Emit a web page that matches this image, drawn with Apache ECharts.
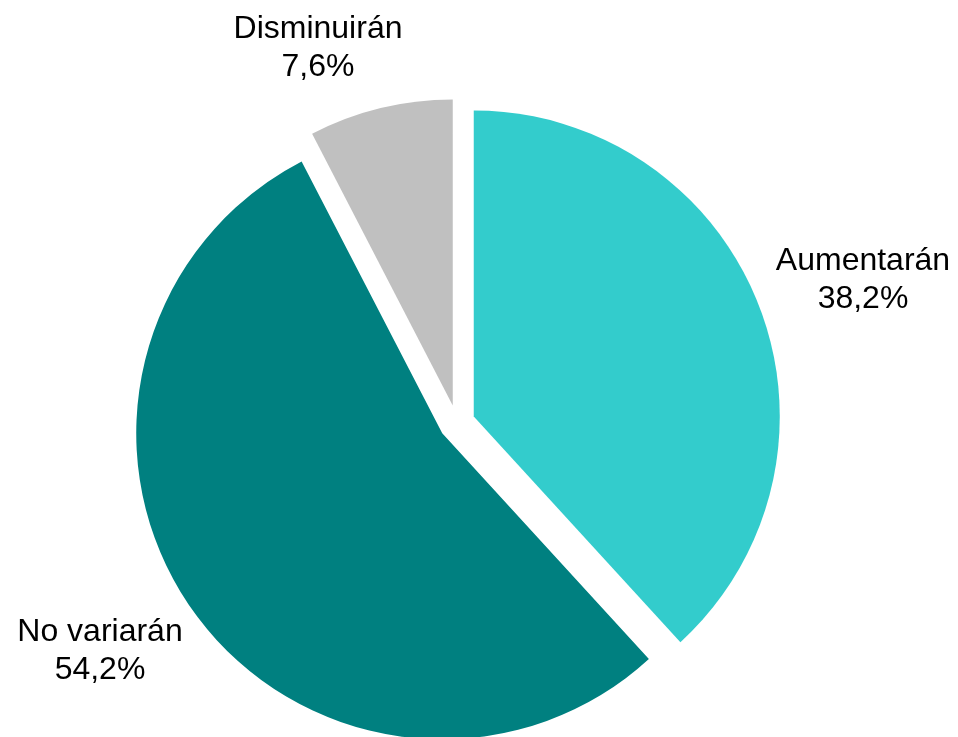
<!DOCTYPE html>
<html>
<head>
<meta charset="utf-8">
<script src="https://cdn.jsdelivr.net/npm/echarts@6/dist/echarts.min.js"></script>
<style>
  html, body { margin: 0; padding: 0; background: #fff; }
  #chart { width: 958px; height: 737px; }
</style>
</head>
<body>
<div id="chart"></div>
<script>
const categories = ['Aumentarán', 'No variarán', 'Disminuirán']
const values = [38.2, 54.2, 7.6]
const valueLabels = ['38,2%', '54,2%', '7,6%']

const colors = ['#33CCCC', '#008080', '#C0C0C0']
// label centres in px (Excel-style best fit placement)
const labelPos = [[863, 280], [100, 651], [318, 48]]

const chart = echarts.init(document.getElementById('chart'))

chart.setOption({
  animation: false,
  backgroundColor: '#fff',
  graphic: categories.map((name, i) => ({
    type: 'text',
    x: labelPos[i][0],
    y: labelPos[i][1],
    style: {
      text: name + '\n' + valueLabels[i],
      fill: '#000',
      font: '32px "Liberation Sans", Arial, sans-serif',
      lineHeight: 38,
      align: 'center',
      verticalAlign: 'middle'
    }
  })),
  series: [
    {
      type: 'pie',
      center: [457, 423],
      radius: 306,
      startAngle: 90,
      clockwise: true,
      selectedMode: 'multiple',
      selectedOffset: 18,
      emphasis: { scale: false },
      label: { show: false },
      labelLine: { show: false },
      data: categories.map((name, i) => ({
        name,
        value: values[i],
        selected: true,
        itemStyle: { color: colors[i] },
        select: { itemStyle: { color: colors[i] } }
      }))
    }
  ]
})
</script>
</body>
</html>
